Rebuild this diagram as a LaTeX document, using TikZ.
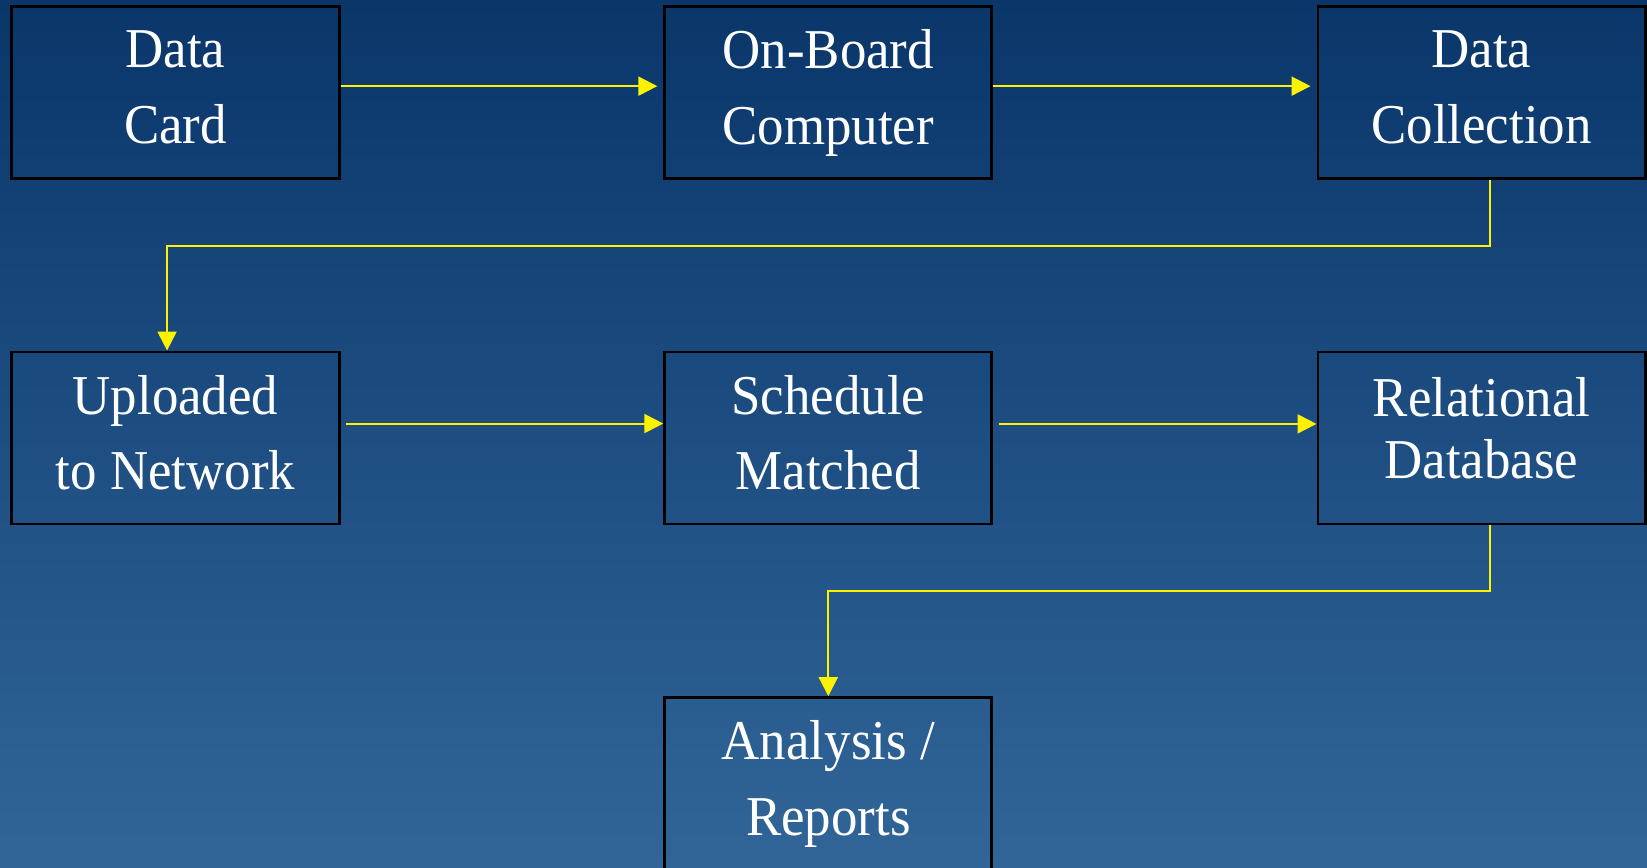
\documentclass[tikz,border=0pt]{standalone}
\usepackage{fontspec}
\setmainfont[FakeStretch=0.94]{Liberation Serif}
\usetikzlibrary{arrows.meta}

\definecolor{bgtop}{RGB}{10,54,106}
\definecolor{bgbot}{RGB}{49,101,152}

\begin{document}
\begin{tikzpicture}[x=0.01cm, y=-0.01cm,
    every node/.style={font=\fontsize{16}{21.5}\selectfont, text=white},
    block/.style={draw=black, line width=0.8pt, minimum width=3.27cm,
      minimum height=1.72cm, align=center, inner sep=0pt, text depth=3.2pt},
    flow/.style={draw=yellow, line width=0.6pt,
      -{Triangle[length=5.4pt,width=5.4pt]}}]

      % backdrop
      \shade[top color=bgtop, bottom color=bgbot] (0,0) rectangle (1647,868);
      \useasboundingbox (0,0) rectangle (1647,868);

      \node[block] (card)  at (175.5,92.5)  {Data\\Card};
      \node[block] (obc)   at (828.3,92.5)  {On-Board\\Computer};
      \node[block] (coll)  at (1481.5,92.5) {Data\\Collection};
      \node[block] (upl)   at (175.5,438)   {Uploaded\\to Network};
      \node[block] (sched) at (828.3,438)   {Schedule\\Matched};
      \node[block, font=\fontsize{16}{17.6}\selectfont, text depth=5.7pt] (rdb) at (1481.5,438) {Relational\\Database};
      \node[block] (rep)   at (828.3,783.6) {Analysis /\\Reports};

      \draw[flow] ([yshift=1.8pt]card.east) -- ([yshift=1.8pt,xshift=-1.7pt]obc.west);
      \draw[flow] ([yshift=1.8pt]obc.east) -- ([yshift=1.8pt,xshift=-1.7pt]coll.west);
      \draw[flow] ([xshift=2.3pt]coll.south) -- ++(0,66) -| ([xshift=-2.4pt]upl.north);

      \draw[flow] ([xshift=1.5pt,yshift=4.1pt]upl.east) -- ([yshift=4.1pt]sched.west);
      \draw[flow] ([xshift=1.5pt,yshift=4pt]sched.east) -- ([yshift=4pt]rdb.west);
      \draw[flow] ([xshift=2.3pt]rdb.south) -- ++(0,66) -| (rep.north);
    \end{tikzpicture}
\end{document}
